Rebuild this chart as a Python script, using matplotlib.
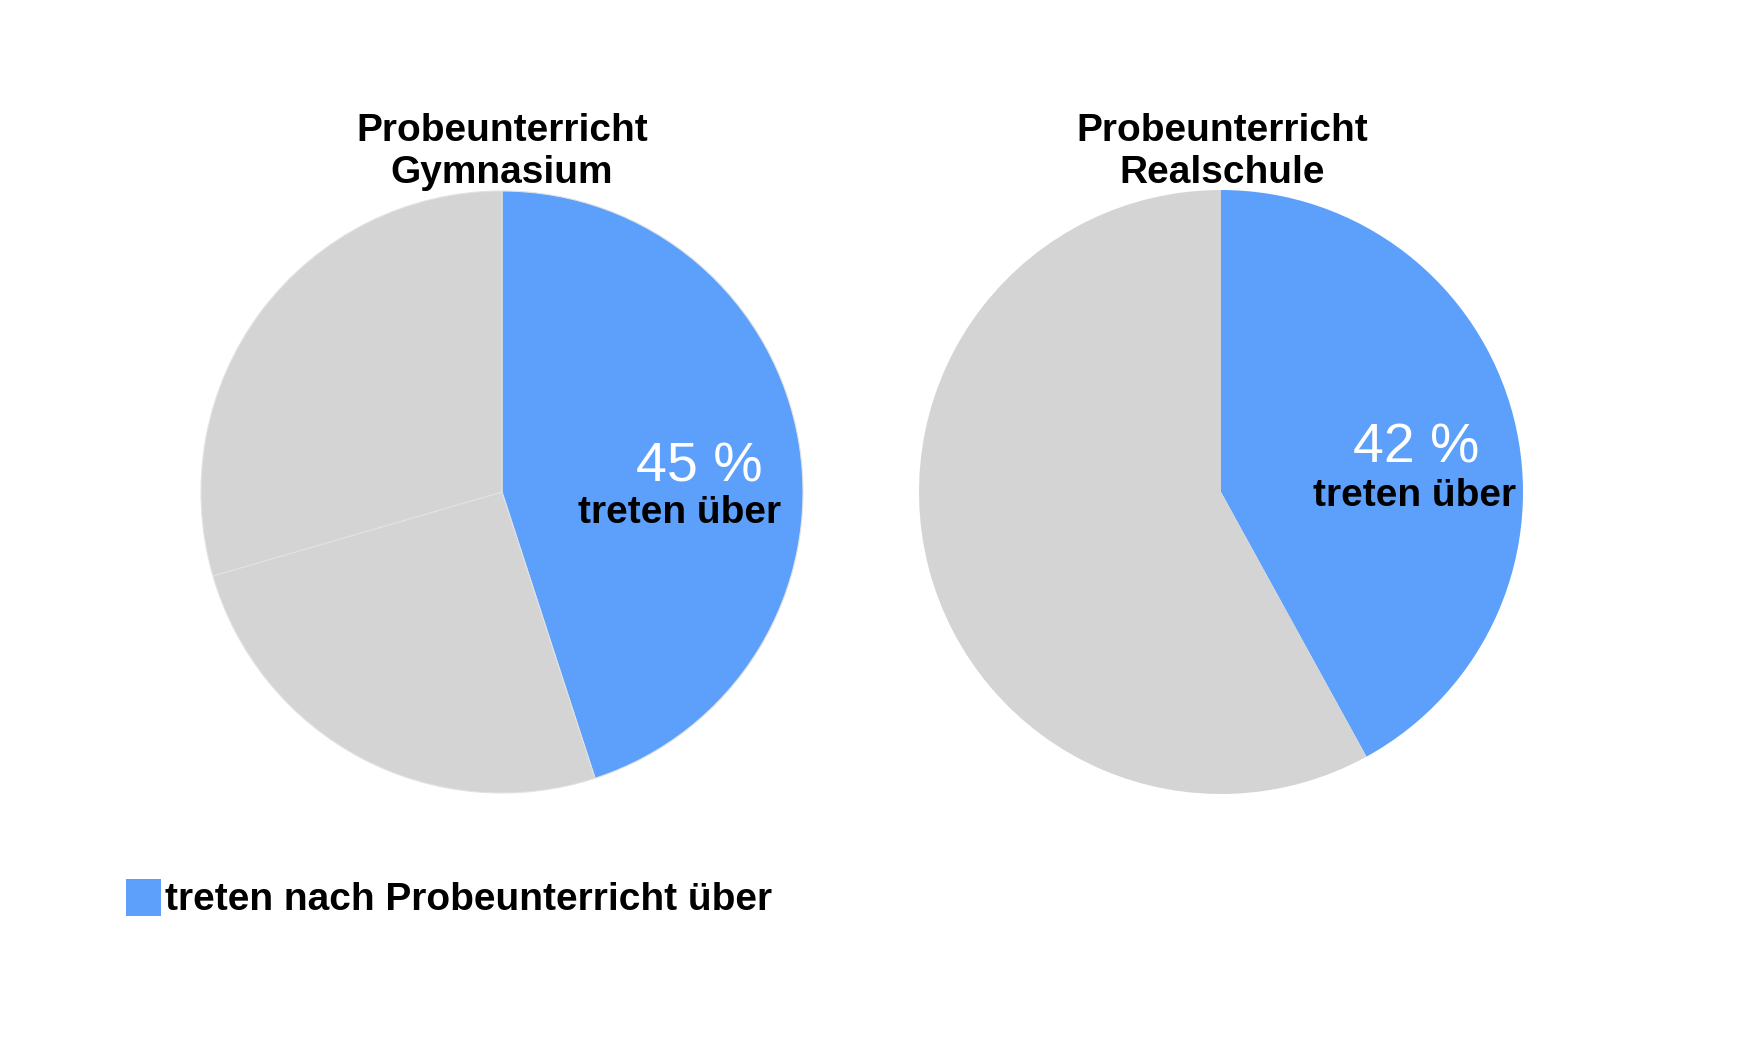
import matplotlib
matplotlib.use("Agg")
import matplotlib.pyplot as plt
from matplotlib.patches import Rectangle

plt.rcParams['font.family'] = ['Liberation Sans', 'DejaVu Sans']

# Data
titles = ["Probeunterricht\nGymnasium", "Probeunterricht\nRealschule"]
gym_values = [45, 25.5, 29.5]
real_values = [42, 58]
pct_labels = ["45 %", "42 %"]
sub_label = "treten über"
legend_label = "treten nach Probeunterricht über"

BLUE = "#5ca0fc"
GRAY = "#d4d4d4"

W, H = 1753, 1056
fig = plt.figure(figsize=(W / 100, H / 100), dpi=100)
fig.patch.set_facecolor("white")

def px(x, y):
    return x / W, 1 - y / H

def pie_axes(cx, cy, r):
    ax = fig.add_axes([(cx - r) / W, 1 - (cy + r) / H, 2 * r / W, 2 * r / H])
    ax.set_xlim(-1, 1)
    ax.set_ylim(-1, 1)
    ax.set_aspect("equal")
    ax.axis("off")
    return ax

ax1 = pie_axes(502, 492, 301)
ax1.pie(gym_values, colors=[BLUE, GRAY, GRAY], startangle=90, counterclock=False,
        radius=1, wedgeprops=dict(edgecolor="#e2e2e2", linewidth=0.8))
ax2 = pie_axes(1221, 492, 302)
ax2.pie(real_values, colors=[BLUE, GRAY], startangle=90, counterclock=False,
        radius=1, wedgeprops=dict(edgecolor="none", linewidth=0))
for ax in (ax1, ax2):
    ax.set_xlim(-1, 1)
    ax.set_ylim(-1, 1)

# Titles
for (x, y), t in zip([(502, 152), (1222, 152)], titles):
    fig.text(*px(x, y), t, ha="center", va="center", fontsize=28,
             fontweight="bold", color="black", linespacing=1.24)

# Slice labels
for (x, y), t in zip([(699, 467), (1416, 448)], pct_labels):
    fig.text(*px(x, y), t, ha="center", va="center", fontsize=40,
             color="white")
for (x, y) in [(680, 513), (1415, 496)]:
    fig.text(*px(x, y), sub_label, ha="center", va="center", fontsize=28,
             fontweight="bold", color="black")

# Legend
fig.patches.append(Rectangle(px(126, 915.5), 35 / W, 37 / H, transform=fig.transFigure,
                             facecolor=BLUE, edgecolor="none"))
fig.text(*px(165, 900), legend_label, ha="left", va="center", fontsize=28,
         fontweight="bold", color="black")

fig.savefig("out.png", dpi=100, facecolor="white")
